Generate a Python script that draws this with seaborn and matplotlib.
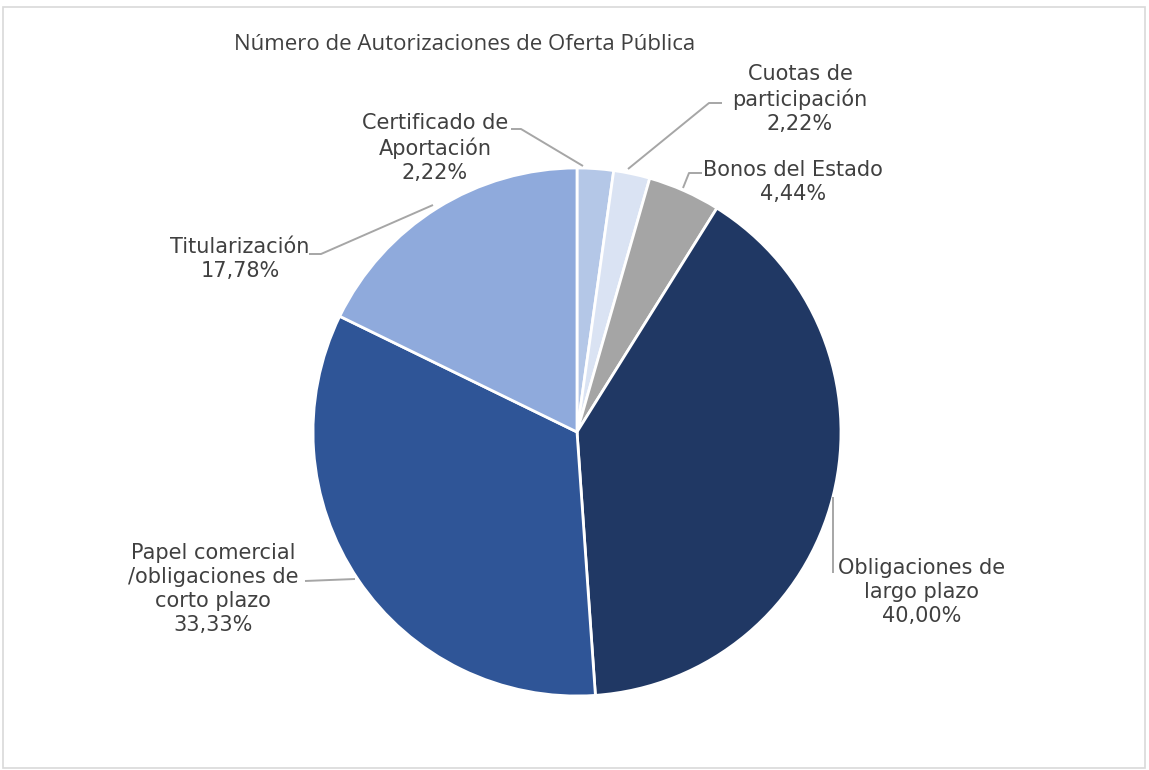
import matplotlib
matplotlib.use("Agg")
import matplotlib.pyplot as plt
import seaborn as sns
from matplotlib.patches import Rectangle

# ---- data ----
categories = ["Certificado de\nAportación", "Cuotas de\nparticipación", "Bonos del Estado",
              "Obligaciones de\nlargo plazo", "Papel comercial\n/obligaciones de\ncorto plazo",
              "Titularización"]
counts = [1, 1, 2, 18, 15, 8]
colors = ["#b4c7e7", "#dae3f3", "#a5a5a5", "#203864", "#2f5597", "#8faadc"]
title = "Número de Autorizaciones de Oferta Pública"

sns.set_theme(style="white")
plt.rcParams["font.family"] = ["DejaVu Sans"]

W, H = 1149, 770
fig = plt.figure(figsize=(W / 100, H / 100), dpi=100)
ax = fig.add_axes([0, 0, 1, 1])
ax.set_xlim(0, W)
ax.set_ylim(0, H)
ax.set_aspect("equal")
ax.axis("off")

cx, cy, R = 577, H - 432, 264
ax.pie(counts, colors=colors, startangle=90, counterclock=False,
       center=(cx, cy), radius=R, frame=True,
       wedgeprops=dict(edgecolor="white", linewidth=2.0))
ax.set_xlim(0, W)
ax.set_ylim(0, H)
ax.axis("off")

total = sum(counts)
pct = [f"{c / total * 100:.2f}%".replace(".", ",") for c in counts]

# label centres (pixel coords, y from top)
label_pos = [(435, 148), (800, 99), (793, 182), (922, 592), (213, 589), (240, 259)]
# leader lines (pixel coords, y from top)
leaders = [
    [(511, 129), (521, 129), (583, 166)],
    [(722, 103), (709, 103), (628, 169)],
    [(702, 173), (689, 173), (683, 188)],
    [(833, 573), (833, 497)],
    [(305, 581), (355, 579)],
    [(309, 254), (321, 254), (433, 205)],
]

txt_color = "#404040"
for cat, p, (lx, ly), pts in zip(categories, pct, label_pos, leaders):
    ax.text(lx, H - ly, f"{cat}\n{p}", ha="center", va="center",
            fontsize=15, color=txt_color, linespacing=1.25)
    xs = [q[0] for q in pts]
    ys = [H - q[1] for q in pts]
    ax.plot(xs, ys, color="#a6a6a6", linewidth=1.4, solid_capstyle="butt")

ax.text(234, H - 44, title, ha="left", va="center", fontsize=16,
        color="#404040", family=["Open Sans", "DejaVu Sans"])

fig.patches.append(Rectangle((3 / W, 2 / H), 1142 / W, 761 / H, transform=fig.transFigure,
                             fill=False, edgecolor="#d9d9d9", linewidth=1.2))

fig.savefig("out.png", dpi=100)
